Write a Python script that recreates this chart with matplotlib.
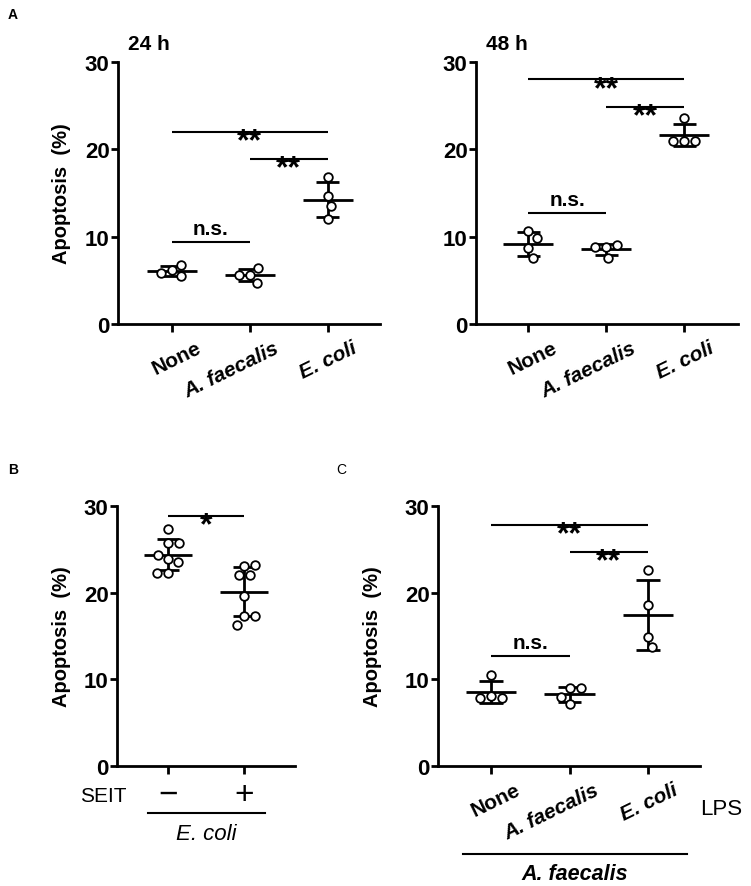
import numpy as np
import matplotlib
matplotlib.use("Agg")
import matplotlib.pyplot as plt
from matplotlib.transforms import ScaledTranslation

plt.rcParams['font.family'] = ['Liberation Sans', 'DejaVu Sans']

# ---- data (% apoptosis per replicate) ----
groups = ["None", "A. faecalis", "E. coli"]
a24_none = [6.2, 5.5, 5.8, 6.8]
a24_afaec = [5.6, 6.4, 4.7, 5.6]
a24_ecoli = [16.8, 14.7, 13.5, 12.0]
a48_none = [10.6, 9.85, 8.7, 7.55]
a48_afaec = [8.8, 9.0, 8.8, 7.55]
a48_ecoli = [23.6, 21.0, 21.0, 21.0]
b_minus = [27.4, 25.7, 25.7, 23.9, 23.5, 24.4, 22.3, 22.3]
b_plus = [23.1, 23.2, 22.0, 22.0, 19.6, 17.3, 17.3, 16.3]
c_none = [10.5, 8.1, 7.8, 7.8]
c_afaec = [9.0, 9.0, 7.2, 8.0]
c_ecoli = [22.6, 18.6, 14.9, 13.7]

# significance brackets: (group i, group j, height, label)
a24_sig = [(0, 2, 22.0, "**"), (1, 2, 18.9, "**"), (0, 1, 9.4, "n.s.")]
a48_sig = [(0, 2, 28.0, "**"), (1, 2, 24.9, "**"), (0, 1, 12.7, "n.s.")]
b_sig = [(0, 1, 28.8, "*")]
c_sig = [(0, 2, 27.8, "**"), (1, 2, 24.7, "**"), (0, 1, 12.7, "n.s.")]

W, H = 751, 887
fig = plt.figure(figsize=(W / 100, H / 100), dpi=100)


def axes_px(x0, x1, ytop, ybot):
    return fig.add_axes([x0 / W, 1 - ybot / H, (x1 - x0) / W, (ybot - ytop) / H])


def style(ax, xlim):
    ax.set_xlim(*xlim)
    ax.set_ylim(0, 30)
    for s in ["top", "right"]:
        ax.spines[s].set_visible(False)
    for s in ["left", "bottom"]:
        ax.spines[s].set_linewidth(2)
    ax.set_yticks([0, 10, 20, 30])
    ax.tick_params(axis="y", length=5, width=2, pad=1, labelsize=16)
    ax.tick_params(axis="x", length=6, width=2, pad=4, labelsize=15)
    for lab in ax.get_yticklabels():
        lab.set_fontweight("bold")


def swarm(ax, xc, vals, d=11):
    # simple beeswarm in pixel space
    tr = ax.transData
    x0 = tr.transform((xc, 0))[0]
    placed = []
    out = []
    for v in vals:
        y = tr.transform((xc, v))[1]
        cands = [0.0]
        for px, py in placed:
            dy = abs(y - py)
            if dy < d:
                dx = np.sqrt(d * d - dy * dy)
                cands += [px + dx, px - dx]
        cands.sort(key=lambda c: (abs(c), -c))
        for c in cands:
            if all((c - px) ** 2 + (y - py) ** 2 >= d * d - 1e-6 for px, py in placed):
                placed.append((c, y))
                break
        xd = tr.inverted().transform((x0 + placed[-1][0], y))[0]
        out.append(xd)
    return out


def draw_group(ax, xc, vals):
    vals = np.array(vals)
    m = vals.mean()
    sd = vals.std(ddof=1)
    ax.hlines(m, xc - 0.32, xc + 0.32, color="black", lw=2, zorder=2)
    ax.vlines(xc, m - sd, m + sd, color="black", lw=2, zorder=2)
    ax.hlines([m - sd, m + sd], xc - 0.15, xc + 0.15, color="black", lw=2, zorder=2)
    xs = swarm(ax, xc, vals)
    ax.plot(xs, vals, "o", ms=6.2, mfc="white", mec="black", mew=1.3, zorder=3)


def draw_sig(ax, sigs):
    for i, j, y, lab in sigs:
        ax.plot([i, j], [y, y], color="black", lw=1.5, solid_capstyle="butt")
        if lab == "n.s.":
            ax.text((i + j) / 2, y + 0.45, lab, ha="center", va="bottom",
                    fontsize=15, fontweight="bold")
        else:
            ax.text((i + j) / 2, y - 2.0, lab, ha="center", va="baseline",
                    fontsize=23, fontweight="bold")


def cat_labels(ax):
    ax.set_xticks(range(3))
    ax.set_xticklabels(groups, rotation=26, ha="right", va="top",
                       rotation_mode="anchor", fontweight="bold")
    off = ScaledTranslation(0.24, 0, fig.dpi_scale_trans)
    for k, lab in enumerate(ax.get_xticklabels()):
        if k > 0:
            lab.set_style("italic")
        lab.set_transform(lab.get_transform() + off)


ylab_kw = dict(fontsize=14.5, fontweight="bold")

# ---- panel A, 24 h ----
ax1 = axes_px(118, 380, 63, 325)
style(ax1, (-0.69, 2.67))
cat_labels(ax1)
for k, v in enumerate([a24_none, a24_afaec, a24_ecoli]):
    draw_group(ax1, k, v)
draw_sig(ax1, a24_sig)
ax1.set_ylabel("Apoptosis  (%)", **ylab_kw)
ax1.yaxis.set_label_coords(-0.18, 0.5)

# ---- panel A, 48 h ----
ax2 = axes_px(476, 738, 63, 325)
style(ax2, (-0.67, 2.69))
cat_labels(ax2)
for k, v in enumerate([a48_none, a48_afaec, a48_ecoli]):
    draw_group(ax2, k, v)
draw_sig(ax2, a48_sig)

# ---- panel B ----
ax3 = axes_px(117, 295, 507, 767)
style(ax3, (-0.67, 1.67))
ax3.set_xticks([0, 1])
ax3.set_xticklabels([])
for k, v in enumerate([b_minus, b_plus]):
    draw_group(ax3, k, v)
draw_sig(ax3, b_sig)
ax3.set_ylabel("Apoptosis  (%)", **ylab_kw)
ax3.yaxis.set_label_coords(-0.26, 0.5)
tb = ax3.get_xaxis_transform()
ax3.text(-0.85, -0.115, "SEIT", transform=tb, ha="center", va="center", fontsize=15)
ax3.text(0, -0.108, "\u2212", transform=tb, ha="center", va="center", fontsize=24)
ax3.text(1, -0.108, "+", transform=tb, ha="center", va="center", fontsize=24)
ax3.plot([-0.26, 1.28], [-0.181, -0.181], transform=tb, color="black", lw=1.5, clip_on=False)
ax3.text(0.5, -0.26, "E. coli", transform=tb, ha="center", va="center",
         fontsize=16, style="italic")

# ---- panel C ----
ax4 = axes_px(438, 700, 507, 767)
style(ax4, (-0.675, 2.66))
cat_labels(ax4)
for k, v in enumerate([c_none, c_afaec, c_ecoli]):
    draw_group(ax4, k, v)
draw_sig(ax4, c_sig)
ax4.set_ylabel("Apoptosis  (%)", **ylab_kw)
ax4.yaxis.set_label_coords(-0.214, 0.5)
ax4.text(1.0, -0.165, "LPS", transform=ax4.transAxes, ha="left", va="center", fontsize=16)
ax4.plot([0.095, 0.95], [-0.338, -0.338], transform=ax4.transAxes, color="black",
         lw=1.5, clip_on=False)
ax4.text(0.523, -0.415, "A. faecalis", transform=ax4.transAxes, ha="center", va="center",
         fontsize=15.5, style="italic", fontweight="bold")

# ---- titles and panel letters ----
fig.text(128 / W, 1 - 45 / H, "24 h", ha="left", va="center", fontsize=15, fontweight="bold")
fig.text(486 / W, 1 - 45 / H, "48 h", ha="left", va="center", fontsize=15, fontweight="bold")
fig.text(8 / W, 1 - 15 / H, "A", ha="left", va="center", fontsize=10, fontweight="bold")
fig.text(8 / W, 1 - 470 / H, "B", ha="left", va="center", fontsize=10, fontweight="bold")
fig.text(336 / W, 1 - 470 / H, "C", ha="left", va="center", fontsize=10)

fig.savefig("out.png", dpi=100)
